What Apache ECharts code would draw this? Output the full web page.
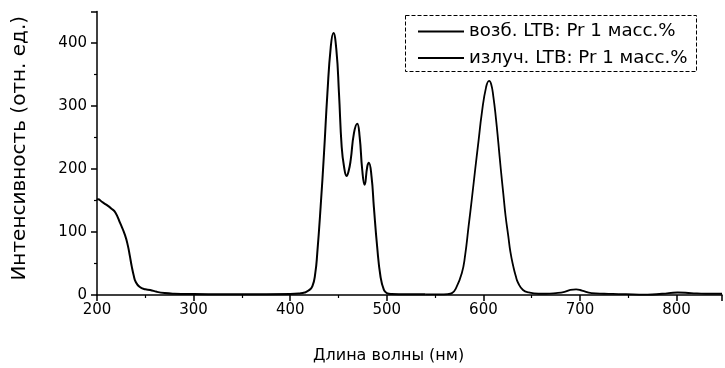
<!DOCTYPE html>
<html>
<head>
<meta charset="utf-8">
<script src="https://cdn.jsdelivr.net/npm/echarts@6/dist/echarts.min.js"></script>
<style>html,body{margin:0;padding:0;background:#fff}#c{width:725px;height:368px}</style>
</head>
<body>
<div id="c"></div>
<script>
const seriesNames = ['возб. LTB: Pr 1 масс.%', 'излуч. LTB: Pr 1 масс.%'];
const xTitle = 'Длина волны (нм)';
const yTitle = 'Интенсивность (отн. ед.)';

// excitation spectrum (wavelength nm, intensity)
const exWl  = [200,201,205,210,215,219,224,229,232,234,236,238,240,244,250,255,262,270,280,300,350,400,410,415,419,423,426,428,431.5,435,438.5,442,444.7,447.8,450.5,453.3,455.7,458.4,460.5,462.6,466,469.4,471.9,474.6,477,479.8,481.4,484.2,486.6,490,493.5,497,500,505,520,540];
const exVal = [151,152,148,143,137,131,114,95,78,62,45,31,21,13,9,8,5,3,2,1.5,1,1.5,2.5,4,7,14,35,66,140,225,320,394,416,389,320,235,204,189,197,214,257,272,251,198,175,204,210,188,140,77,29,8,3,1.5,1,1];

// emission spectrum
const emWl  = [540,555,563,567.4,572,577.7,581,584.6,588,591.4,595,598.3,602.8,605.9,608,610.3,613,615.5,618,620.6,623,625.8,628,631,633.5,636,641,647,657,665,675,684,690,696,702,712,725,740,755,770,785,801,815,830,847];
const emVal = [1,1,1.5,3,12,35,62,108,152,198,245,288,330,340,335,315,280,241,200,161,125,93,68,45,30,19,8,4,2,2,3,5,8,9,7,3,2,1.5,1,0.5,2,4,3,2,2];

const xTicks = {min: 200, max: 847, interval: 100};
const yTicks = {min: 0, max: 450, interval: 100};

const zip = (a, b) => a.map((v, i) => [v, b[i]]);
const font = 'DejaVu Sans, Verdana, sans-serif';

const chart = echarts.init(document.getElementById('c'), null, {renderer: 'canvas'});
chart.setOption({
  animation: false,
  backgroundColor: '#fff',
  textStyle: {fontFamily: font, color: '#000'},
  grid: {left: 97, right: 0, top: 11.5, bottom: 73, containLabel: false},
  xAxis: {
    type: 'value', min: xTicks.min, max: xTicks.max, interval: xTicks.interval,
    axisLine: {lineStyle: {color: '#000', width: 1.5}},
    axisTick: {show: true, inside: false, length: 6, lineStyle: {color: '#000', width: 1.5}},
    minorTick: {show: true, splitNumber: 2, length: 3, lineStyle: {color: '#000', width: 1.2}},
    axisLabel: {color: '#000', fontSize: 15, margin: 8, fontFamily: font,
      formatter: v => (v % 100 === 0 && v <= 800) ? String(v) : ''},
    splitLine: {show: false}
  },
  yAxis: {
    type: 'value', min: yTicks.min, max: yTicks.max, interval: yTicks.interval,
    name: yTitle, nameLocation: 'middle', nameGap: 67, nameRotate: 90,
    nameTextStyle: {fontSize: 20, color: '#000', fontFamily: font, padding: [0, 0, 0, 10]},
    axisLine: {show: true, lineStyle: {color: '#000', width: 1.5}},
    axisTick: {show: true, inside: false, length: 6, lineStyle: {color: '#000', width: 1.5}},
    minorTick: {show: true, splitNumber: 2, length: 3, lineStyle: {color: '#000', width: 1.2}},
    axisLabel: {color: '#000', fontSize: 15, margin: 10, fontFamily: font,
      formatter: v => (v % 100 === 0) ? String(v) : ''},
    splitLine: {show: false}
  },
  legend: {
    orient: 'vertical', left: 418, top: 22.5, itemWidth: 46, itemHeight: 2, itemGap: 8.5,
    icon: 'rect', padding: 0,
    textStyle: {fontSize: 18.2, color: '#000', fontFamily: font},
    data: seriesNames
  },
  graphic: [
    {type: 'rect', shape: {x: 405.5, y: 15.5, width: 291, height: 56},
     style: {fill: null, stroke: '#000', lineWidth: 1, lineDash: [4, 2]}, z: 100},
    {type: 'text', left: 313, top: 348,
     style: {text: xTitle, font: '16px ' + font, fill: '#000'}}
  ],
  series: [
    {name: seriesNames[0], type: 'line', data: zip(exWl, exVal), smooth: true,
     showSymbol: false, symbol: 'none', lineStyle: {color: '#000', width: 2}, itemStyle: {color: '#000'}},
    {name: seriesNames[1], type: 'line', data: zip(emWl, emVal), smooth: true,
     showSymbol: false, symbol: 'none', lineStyle: {color: '#000', width: 1.8}, itemStyle: {color: '#000'}}
  ]
});
</script>
</body>
</html>
